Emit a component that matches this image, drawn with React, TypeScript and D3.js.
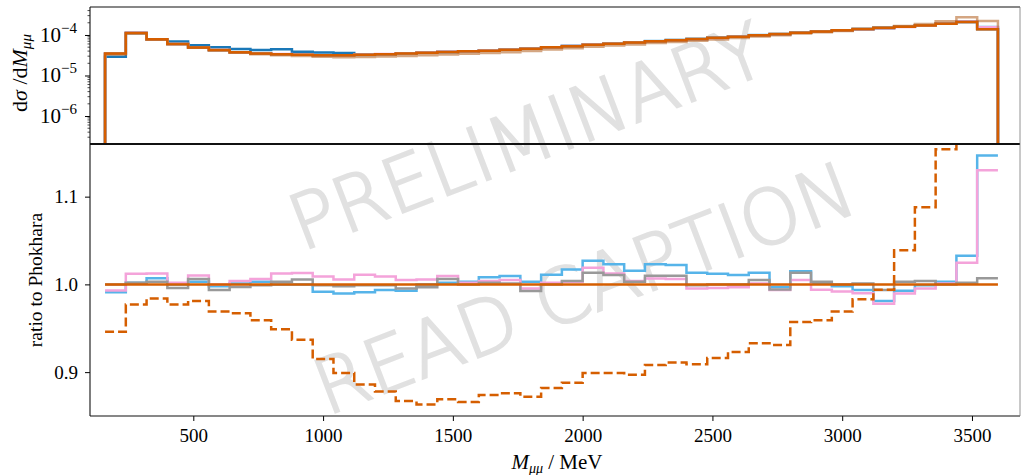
import { useEffect, useRef } from "react";
import * as d3 from "d3";

// histogram bin edges in M_mumu (MeV)
const binEdges = [
  160, 240, 320, 400, 480, 560, 640, 720, 800, 880, 960, 1040, 1120, 1200, 1280,
  1360, 1440, 1520, 1600, 1680, 1760, 1840, 1920, 2000, 2080, 2160, 2240, 2320,
  2400, 2480, 2560, 2640, 2720, 2800, 2880, 2960, 3040, 3120, 3200, 3280, 3360,
  3440, 3520, 3600,
];

// dsigma/dM for the reference (Phokhara)
const phokhara = [
  3.5e-5, 1.12e-4, 7.8e-5, 6.0e-5, 4.9e-5, 4.25e-5, 3.75e-5, 3.5e-5, 3.35e-5,
  3.25e-5, 3.15e-5, 3.15e-5, 3.25e-5, 3.35e-5, 3.5e-5, 3.65e-5, 3.8e-5, 3.95e-5,
  4.1e-5, 4.3e-5, 4.6e-5, 4.95e-5, 5.3e-5, 5.7e-5, 6.1e-5, 6.5e-5, 6.95e-5,
  7.4e-5, 7.9e-5, 8.5e-5, 9.1e-5, 9.8e-5, 1.05e-4, 1.13e-4, 1.21e-4, 1.3e-4,
  1.4e-4, 1.5e-4, 1.6e-4, 1.72e-4, 1.88e-4, 2.1e-4, 1.38e-4,
];

// dark blue curve, only in the upper panel
const darkBlue = [
  2.9e-5, 1.12e-4, 7.8e-5, 6.9e-5, 5.6e-5, 4.95e-5, 4.5e-5, 4.25e-5, 4.45e-5,
  3.85e-5, 3.72e-5, 3.58e-5, 3.35e-5, 3.35e-5, 3.5e-5, 3.65e-5, 3.8e-5, 3.95e-5,
  4.1e-5, 4.3e-5, 4.6e-5, 4.95e-5, 5.3e-5, 5.7e-5, 6.1e-5, 6.5e-5, 6.95e-5,
  7.4e-5, 7.9e-5, 8.5e-5, 9.1e-5, 9.8e-5, 1.05e-4, 1.13e-4, 1.21e-4, 1.3e-4,
  1.4e-4, 1.5e-4, 1.6e-4, 1.72e-4, 1.88e-4, 2.1e-4, 1.4e-4,
];

// ratios to Phokhara
const skyRatio = [
  0.991, 1.002, 1.007, 1.0, 1.003, 0.998, 1.001, 1.003, 1.0, 1.0, 0.9916,
  0.9897, 0.991, 0.9935, 0.9928, 1.0, 1.002, 1.003, 1.008, 1.0095, 1.003, 1.011,
  1.017, 1.027, 1.023, 1.0156, 1.023, 1.022, 1.0133, 1.0122, 1.0108, 1.0133,
  0.997, 1.015, 1.001, 0.998, 0.9935, 0.981, 0.9928, 0.999, 1.003, 1.0327, 1.147,
];
const pinkRatio = [
  0.993, 1.012, 1.0125, 1.002, 1.01, 1.0, 1.004, 1.006, 1.0125, 1.013, 1.009,
  1.0057, 1.011, 1.009, 1.005, 1.0057, 1.0095, 1.002, 1.004, 1.005, 0.9954,
  1.002, 1.003, 1.019, 1.0125, 1.004, 1.0068, 1.006, 0.9954, 0.9958, 0.9966,
  1.001, 0.9935, 1.005, 0.994, 0.992, 0.99, 0.978, 0.9897, 0.9954, 1.001,
  1.0247, 1.13,
];
const greyRatio = [
  1.0, 1.002, 1.003, 0.996, 1.006, 0.9935, 0.997, 0.999, 1.003, 1.0057, 0.999,
  0.998, 0.999, 0.999, 0.9954, 0.9966, 1.006, 1.0, 1.002, 1.001, 0.9924, 1.0,
  1.004, 1.0133, 1.0106, 1.003, 1.0099, 1.0099, 0.999, 1.0, 1.0, 1.005, 0.9943,
  1.0133, 1.003, 1.0, 1.001, 0.9935, 1.003, 1.004, 1.0, 1.002, 1.007,
];
const dashedRatio = [
  0.946, 0.977, 0.984, 0.977, 0.981, 0.969, 0.967, 0.959, 0.949, 0.937, 0.915,
  0.899, 0.886, 0.878, 0.867, 0.863, 0.869, 0.866, 0.874, 0.876, 0.872, 0.882,
  0.888, 0.899, 0.899, 0.897, 0.908, 0.911, 0.909, 0.916, 0.923, 0.933, 0.931,
  0.957, 0.959, 0.969, 0.983, 0.994, 1.039, 1.088, 1.154, 1.3, 1.6,
];

const xTicks = [500, 1000, 1500, 2000, 2500, 3000, 3500];
const ratioTicks = [0.9, 1.0, 1.1];
const logTicks = [1e-6, 1e-5, 1e-4];

const W = 1023;
const H = 475;
const left = 90;
const right = 1020;
const top = 7;
const split = 144;
const bottom = 416;
const serif = "'Liberation Serif', 'DejaVu Serif', serif";

const ChartPanels = () => {
  const svgRef = useRef<SVGSVGElement>(null);

  useEffect(() => {
    if (!svgRef.current) return;
    const svg = d3.select(svgRef.current);
    svg.selectAll("*").remove();

    const x = d3.scaleLinear().domain([102, 3685]).range([left, right]);
    const yTop = d3.scaleLog().domain([2.04e-7, 4.9e-4]).range([split, top]);
    const yRatio = d3.scaleLinear().domain([0.85, 1.16]).range([bottom, split]);

    const defs = svg.append("defs");
    defs
      .append("clipPath")
      .attr("id", "clipTop")
      .append("rect")
      .attr("x", left)
      .attr("y", top)
      .attr("width", right - left)
      .attr("height", split - top);
    defs
      .append("clipPath")
      .attr("id", "clipBottom")
      .append("rect")
      .attr("x", left)
      .attr("y", split)
      .attr("width", right - left)
      .attr("height", bottom - split);

    // watermark, under the curves
    const mark = [
      { label: "PRELIMINARY", cx: 527, cy: 136 },
      { label: "READ CAPTION", cx: 584, cy: 288 },
    ];
    mark.forEach((m) => {
      svg
        .append("text")
        .attr("transform", `translate(${m.cx},${m.cy}) rotate(-21)`)
        .attr("y", 27)
        .attr("text-anchor", "middle")
        .attr("font-family", "'DejaVu Sans', sans-serif")
        .attr("font-weight", 200)
        .attr("font-size", 76)
        .attr("fill", "#e1e1e1")
        .attr("stroke", "#e1e1e1")
        .attr("stroke-width", 2.2)
        .text(m.label);
    });

    const n = binEdges.length - 1;
    const line = d3.line().curve(d3.curveStepAfter);

    // step outline, optionally closed down to the floor like histtype="step"
    const stepPath = (
      vals: number[],
      ys: (v: number) => number,
      floor?: number
    ) => {
      const pts: [number, number][] = [];
      if (floor !== undefined) pts.push([x(binEdges[0]), floor]);
      vals.forEach((v, i) => pts.push([x(binEdges[i]), ys(v)]));
      pts.push([x(binEdges[n]), ys(vals[n - 1])]);
      if (floor !== undefined) pts.push([x(binEdges[n]), floor]);
      return line(pts) as string;
    };

    // ---- upper panel
    const gTop = svg.append("g").attr("clip-path", "url(#clipTop)");
    const times = (r: number[]) => phokhara.map((v, i) => v * r[i]);
    const topSeries = [
      { vals: darkBlue, color: "#1a78b8", op: 1 },
      { vals: times(skyRatio), color: "#56B4E9", op: 1 },
      { vals: times(pinkRatio), color: "#F4A3DA", op: 1 },
      { vals: times(greyRatio), color: "#999999", op: 1 },
      { vals: times(dashedRatio), color: "#B86A2E", op: 0.6 },
      { vals: phokhara, color: "#D55E00", op: 1 },
    ];
    topSeries.forEach((s) => {
      gTop
        .append("path")
        .attr("d", stepPath(s.vals, (v) => yTop(v), split + 10))
        .attr("fill", "none")
        .attr("stroke", s.color)
        .attr("stroke-opacity", s.op)
        .attr("stroke-width", 2.5);
    });

    // ---- ratio panel
    const gBot = svg.append("g").attr("clip-path", "url(#clipBottom)");
    const ratioSeries = [
      { vals: skyRatio, color: "#56B4E9", dash: null },
      { vals: pinkRatio, color: "#F4A3DA", dash: null },
      { vals: greyRatio, color: "#999999", dash: null },
      { vals: dashedRatio, color: "#D55E00", dash: "9,4" },
      { vals: phokhara.map(() => 1), color: "#D55E00", dash: null },
    ];
    ratioSeries.forEach((s) => {
      gBot
        .append("path")
        .attr("d", stepPath(s.vals, (v) => yRatio(v)))
        .attr("fill", "none")
        .attr("stroke", s.color)
        .attr("stroke-width", 2.5)
        .attr("stroke-dasharray", s.dash);
    });

    // ---- axes
    const xAxis = svg
      .append("g")
      .attr("transform", `translate(0,${bottom})`)
      .call(
        d3
          .axisBottom(x)
          .tickValues(xTicks)
          .tickSize(5)
          .tickPadding(8)
          .tickFormat((d) => String(d))
      );
    xAxis.select(".domain").remove();

    const yAxisBot = svg
      .append("g")
      .attr("transform", `translate(${left},0)`)
      .call(
        d3
          .axisLeft(yRatio)
          .tickValues(ratioTicks)
          .tickSize(5)
          .tickPadding(7)
          .tickFormat(d3.format(".1f"))
      );
    yAxisBot.select(".domain").remove();

    const yAxisTop = svg
      .append("g")
      .attr("transform", `translate(${left},0)`)
      .call(d3.axisLeft(yTop).tickValues(logTicks).tickSize(5).tickFormat(() => ""));
    yAxisTop.select(".domain").remove();

    // minor log ticks
    const minor: number[] = [];
    [-7, -6, -5, -4].forEach((p) =>
      [2, 3, 4, 5, 6, 7, 8, 9].forEach((m) => {
        const v = m * Math.pow(10, p);
        if (v > 2.04e-7 && v < 4.9e-4) minor.push(v);
      })
    );
    svg
      .append("g")
      .selectAll("line")
      .data(minor)
      .enter()
      .append("line")
      .attr("x1", left - 2.5)
      .attr("x2", left)
      .attr("y1", (d) => yTop(d))
      .attr("y2", (d) => yTop(d))
      .attr("stroke", "#000")
      .attr("stroke-width", 0.7);

    svg
      .selectAll(".tick text")
      .attr("font-family", serif)
      .attr("font-size", 19)
      .attr("fill", "#000");
    svg.selectAll(".tick line").attr("stroke", "#000").attr("stroke-width", 1);

    // log tick labels 10^{-k}
    logTicks.forEach((t) => {
      const txt = svg
        .append("text")
        .attr("x", left - 13)
        .attr("y", yTop(t) + 7)
        .attr("text-anchor", "end")
        .attr("font-family", serif)
        .attr("font-size", 21)
        .attr("fill", "#000");
      txt.append("tspan").text("10");
      txt
        .append("tspan")
        .attr("dy", -9)
        .attr("font-size", 15)
        .text(`\u2212${-Math.round(Math.log10(t))}`);
    });

    // spines
    const spine = (x1: number, y1: number, x2: number, y2: number, w = 1.1) =>
      svg
        .append("line")
        .attr("x1", x1)
        .attr("y1", y1)
        .attr("x2", x2)
        .attr("y2", y2)
        .attr("stroke", "#111")
        .attr("stroke-width", w);
    spine(left, top, right, top);
    spine(left, top, left, bottom);
    spine(left, bottom, right, bottom);
    spine(left, split, right, split, 1.8);
    spine(right, top, right, bottom, 0.8).attr("stroke", "#777");

    // axis labels
    const xl = svg
      .append("text")
      .attr("x", 557)
      .attr("y", 469)
      .attr("text-anchor", "middle")
      .attr("font-family", serif)
      .attr("font-size", 21);
    xl.append("tspan").attr("font-style", "italic").text("M");
    xl.append("tspan")
      .attr("font-style", "italic")
      .attr("font-size", 14)
      .attr("dy", 4)
      .text("\u03bc\u03bc");
    xl.append("tspan").attr("dy", -4).text(" / MeV");

    const yl = svg
      .append("text")
      .attr("transform", `translate(27,73) rotate(-90)`)
      .attr("text-anchor", "middle")
      .attr("font-family", serif)
      .attr("font-size", 22);
    yl.append("tspan").text("d");
    yl.append("tspan").attr("font-style", "italic").text("\u03c3");
    yl.append("tspan").text(" /d");
    yl.append("tspan").attr("font-style", "italic").text("M");
    yl.append("tspan")
      .attr("font-style", "italic")
      .attr("font-size", 15)
      .attr("dy", 4)
      .text("\u03bc\u03bc");

    svg
      .append("text")
      .attr("transform", `translate(42,280) rotate(-90)`)
      .attr("text-anchor", "middle")
      .attr("font-family", serif)
      .attr("font-size", 19.5)
      .text("ratio to Phokhara");
  }, []);

  return (
    <svg
      ref={svgRef}
      width={W}
      height={H}
      style={{ position: "absolute", left: 0, top: 0, background: "#fff" }}
    ></svg>
  );
};

export default ChartPanels;
